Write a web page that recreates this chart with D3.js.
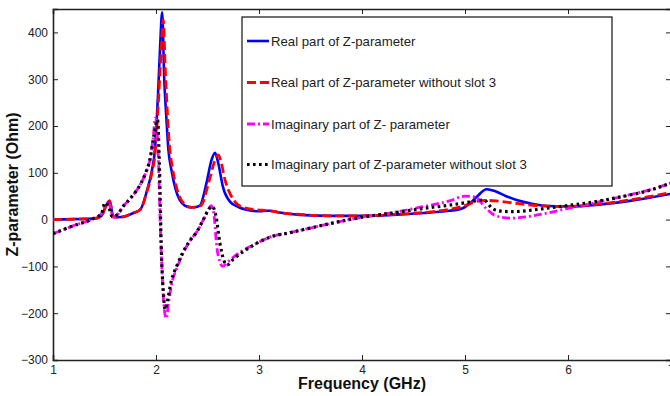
<!DOCTYPE html>
<html>
<head>
<meta charset="utf-8">
<script src="https://cdn.jsdelivr.net/npm/d3@7"></script>
<style>
  body { margin: 0; background: #fff; }
  svg { font-family: "Liberation Sans", Arial, sans-serif; }
</style>
</head>
<body>
<div id="chart-area"></div>
<script>

// Real part of Z-parameter
var realFreq = [1.0, 1.2, 1.4, 1.47, 1.52, 1.55, 1.585, 1.63, 1.7, 1.78, 1.85, 1.91, 1.96, 1.99, 2.02, 2.04, 2.06, 2.08, 2.1, 2.12, 2.15, 2.19, 2.23, 2.28, 2.34, 2.39, 2.43, 2.49, 2.54, 2.573, 2.605, 2.65, 2.72, 2.8, 2.88, 3.0, 3.1, 3.2, 3.4, 3.7, 4.0, 4.3, 4.6, 4.85, 4.95, 5.05, 5.12, 5.21, 5.3, 5.4, 5.5, 5.65, 5.8, 6.0, 6.3, 6.6, 7.0]
var realVal  = [0, 1, 2, 8, 32, 40, 6, 5, 7, 14, 22, 60, 105, 150, 270, 370, 443, 300, 220, 150, 106, 65, 42, 30, 26, 27, 31, 78, 128, 143, 120, 70, 38, 27, 21, 18, 19, 15, 10, 8, 8, 10, 14, 19, 22, 35, 50, 65, 60, 50, 42, 34, 29, 28, 32, 40, 55]

// Real part of Z-parameter without slot 3
var realNoSlotFreq = [1.0, 1.2, 1.4, 1.47, 1.52, 1.55, 1.585, 1.63, 1.7, 1.78, 1.85, 1.91, 1.96, 1.99, 2.02, 2.05, 2.07, 2.09, 2.11, 2.13, 2.16, 2.2, 2.24, 2.29, 2.35, 2.4, 2.44, 2.51, 2.57, 2.605, 2.635, 2.67, 2.72, 2.78, 2.88, 2.98, 3.1, 3.2, 3.4, 3.7, 4.0, 4.3, 4.6, 4.85, 5.0, 5.1, 5.2, 5.3, 5.45, 5.6, 5.8, 6.0, 6.3, 6.6, 7.0]
var realNoSlotVal  = [0, 1, 2, 8, 32, 40, 6, 5, 7, 14, 22, 58, 100, 140, 240, 360, 427, 320, 230, 160, 110, 68, 44, 31, 26, 27, 31, 78, 125, 138, 120, 85, 55, 35, 24, 21, 19, 15, 11, 8, 8, 11, 15, 22, 30, 38, 41, 40, 36, 32, 29, 28, 33, 42, 58]

// Imaginary part of Z-parameter
var imagFreq = [1.0, 1.2, 1.4, 1.47, 1.52, 1.55, 1.585, 1.63, 1.68, 1.75, 1.845, 1.9, 1.94, 1.97, 1.995, 2.02, 2.04, 2.06, 2.08, 2.1, 2.12, 2.16, 2.2, 2.25, 2.33, 2.4, 2.46, 2.51, 2.535, 2.56, 2.59, 2.62, 2.645, 2.7, 2.8, 2.95, 3.1, 3.3, 3.5, 3.7, 4.0, 4.3, 4.6, 4.85, 5.0, 5.1, 5.2, 5.3, 5.45, 5.6, 5.8, 6.0, 6.2, 6.5, 6.8, 7.0]
var imagVal  = [-30, -13, 3, 12, 35, 30, 5, 12, 28, 45, 74, 100, 127, 170, 217, 150, 0, -120, -190, -211, -180, -130, -105, -78, -45, -25, 0, 22, 30, 15, -58, -90, -100, -90, -72, -54, -38, -28, -18, -8, 5, 15, 28, 40, 50, 48, 25, 8, 3, 6, 14, 24, 33, 48, 64, 78]

// Imaginary part of Z-parameter without slot 3
var imagNoSlotFreq = [1.0, 1.2, 1.4, 1.47, 1.505, 1.54, 1.575, 1.63, 1.68, 1.75, 1.845, 1.9, 1.94, 1.98, 2.015, 2.035, 2.05, 2.07, 2.09, 2.11, 2.15, 2.2, 2.25, 2.33, 2.4, 2.46, 2.52, 2.545, 2.58, 2.62, 2.66, 2.69, 2.75, 2.85, 2.95, 3.1, 3.3, 3.5, 3.7, 4.0, 4.3, 4.6, 4.85, 5.0, 5.1, 5.18, 5.27, 5.35, 5.45, 5.6, 5.75, 6.0, 6.2, 6.5, 6.8, 7.0]
var imagNoSlotVal  = [-30, -13, 3, 12, 36, 28, 6, 12, 28, 45, 74, 100, 127, 180, 213, 100, -50, -150, -192, -175, -130, -100, -75, -45, -25, 0, 24, 28, 10, -50, -88, -97, -85, -68, -54, -38, -28, -18, -8, 5, 14, 24, 31, 36, 40, 42, 23, 18, 17, 19, 23, 30, 36, 48, 63, 78]

var seriesNames = ["Real part of Z-parameter", "Real part of Z-parameter without slot 3",
                   "Imaginary part of Z- parameter", "Imaginary part of Z-parameter without slot 3"]

var xTicks = [1, 2, 3, 4, 5, 6, 7]
var yTicks = [-300, -200, -100, 0, 100, 200, 300, 400]

var margin = { left: 53, top: 9, right: -1, bottom: 36 }
var totalW = 670, totalH = 396
var width = totalW - margin.left - margin.right,
    height = totalH - margin.top - margin.bottom

var svg = d3.select("#chart-area").append("svg")
    .attr("width", totalW)
    .attr("height", totalH)

var g = svg.append("g")
    .attr("transform", "translate(" + margin.left + "," + margin.top + ")")

var x = d3.scaleLinear().domain([1, 7]).range([0, width])
var y = d3.scaleLinear().domain([-300, 450]).range([height, 0])

svg.append("defs").append("clipPath")
    .attr("id", "clip")
  .append("rect")
    .attr("width", width)
    .attr("height", height)

// axes, MATLAB style: ticks pointing inward on all four sides
var tickLen = 5
g.append("g")
    .attr("class", "x axis")
    .attr("transform", "translate(0," + height + ")")
    .call(d3.axisBottom(x).tickValues(xTicks).tickSize(-tickLen).tickPadding(5).tickFormat(d3.format("d")))
g.append("g")
    .attr("class", "x axis top")
    .call(d3.axisTop(x).tickValues(xTicks).tickSize(-tickLen).tickFormat(""))
g.append("g")
    .attr("class", "y axis")
    .call(d3.axisLeft(y).tickValues(yTicks).tickSize(-tickLen).tickPadding(5).tickFormat(d3.format("d")))
g.append("g")
    .attr("class", "y axis right")
    .attr("transform", "translate(" + width + ",0)")
    .call(d3.axisRight(y).tickValues(yTicks).tickSize(-tickLen).tickFormat(""))

g.selectAll(".axis path").attr("stroke", "#222").attr("stroke-width", 1.6)
g.selectAll(".axis line").attr("stroke", "#222").attr("stroke-width", 1)
g.selectAll(".axis text").attr("font-size", "12px").attr("fill", "#222")
  .attr("font-family", "'Liberation Sans', Arial, sans-serif")

var styles = [
  { color: "#0000ff", dash: null, w: 2.6 },
  { color: "#ff0000", dash: "9,4", w: 2.8 },
  { color: "#ff00ff", dash: "8,3,2,3", w: 2.8 },
  { color: "#000000", dash: "2.6,3.4", w: 3.2 }
]

var seriesData = [
  d3.zip(realFreq, realVal),
  d3.zip(realNoSlotFreq, realNoSlotVal),
  d3.zip(imagFreq, imagVal),
  d3.zip(imagNoSlotFreq, imagNoSlotVal)
]

var line = d3.line()
    .x(function(d) { return x(d[0]) })
    .y(function(d) { return y(d[1]) })
    .curve(d3.curveMonotoneX)

var plot = g.append("g").attr("clip-path", "url(#clip)")

seriesData.forEach(function(data, i) {
  plot.append("path")
    .datum(data)
    .attr("fill", "none")
    .attr("stroke", styles[i].color)
    .attr("stroke-width", styles[i].w)
    .attr("stroke-dasharray", styles[i].dash)
    .attr("stroke-linejoin", "round")
    .attr("d", line)
})

// legend
var legend = svg.append("g").attr("transform", "translate(242,17)")
legend.append("rect")
    .attr("width", 370)
    .attr("height", 169)
    .attr("fill", "#fff")
    .attr("stroke", "#111")
    .attr("stroke-width", 1.2)

var rowY = [24, 65.5, 107, 147.5]
seriesNames.forEach(function(name, i) {
  legend.append("line")
    .attr("x1", 5).attr("x2", 27)
    .attr("y1", rowY[i]).attr("y2", rowY[i])
    .attr("stroke", styles[i].color)
    .attr("stroke-width", styles[i].w)
    .attr("stroke-dasharray", styles[i].dash)
  legend.append("text")
    .attr("x", 29)
    .attr("y", rowY[i] + 4.5)
    .attr("font-size", "13.2px")
    .attr("fill", "#222")
    .text(name)
})

// axis labels
svg.append("text")
    .attr("x", x(4) + margin.left)
    .attr("y", 389)
    .attr("text-anchor", "middle")
    .attr("font-size", "16px")
    .attr("font-weight", "bold")
    .attr("fill", "#111")
    .text("Frequency (GHz)")

svg.append("text")
    .attr("transform", "rotate(-90)")
    .attr("x", -(margin.top + height / 2))
    .attr("y", 18)
    .attr("text-anchor", "middle")
    .attr("font-size", "16px")
    .attr("font-weight", "bold")
    .attr("fill", "#111")
    .text("Z-parameter (Ohm)")

</script>
</body>
</html>
